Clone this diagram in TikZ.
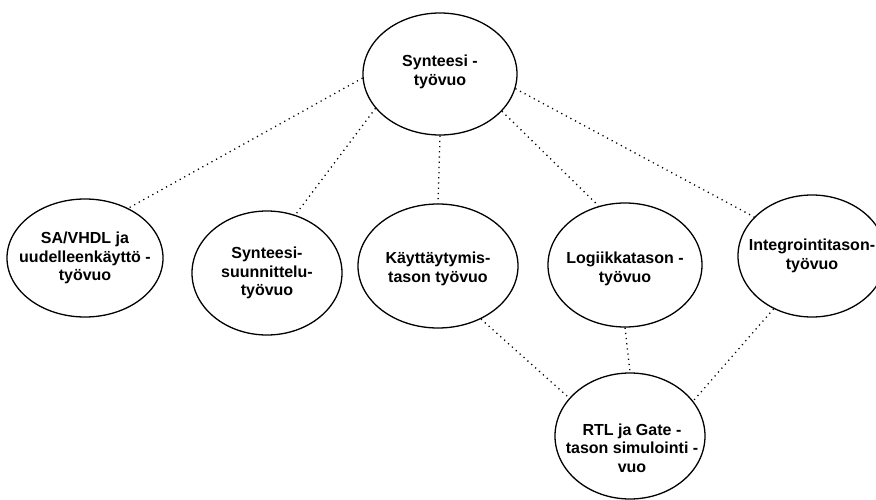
\documentclass[tikz,border=0pt]{standalone}
\usepackage{fontspec}
\setmainfont{Liberation Sans}
\usetikzlibrary{shapes.geometric}
\begin{document}
\begin{tikzpicture}[x=1pt,y=-1pt,
  flow/.style={ellipse,draw=black,line width=1.3pt,inner sep=0pt},
  caption/.style={align=center,inner sep=0pt,
    font=\fontsize{16}{18.6}\selectfont\bfseries},
  link/.style={line width=1.3pt,dash pattern=on 1.2pt off 4pt,line cap=butt}]
\useasboundingbox (0,0) rectangle (876,500);
% workflow ellipses
\node[flow,minimum width=154pt,minimum height=122pt] (top) at (440,74) {};
\node[flow,minimum width=156pt,minimum height=118pt] (sa)  at (85,258) {};
\node[flow,minimum width=150pt,minimum height=124pt] (syn) at (267,273) {};
\node[flow,minimum width=160pt,minimum height=124pt] (kay) at (438,266) {};
\node[flow,minimum width=154pt,minimum height=124pt] (log) at (625,265) {};
\node[flow,minimum width=148pt,minimum height=122pt] (int) at (812,256) {};
\node[flow,minimum width=150pt,minimum height=126pt] (rtl) at (630,436) {};
% captions
\node[caption] (top-t) at (440,72) {Synteesi -\\työvuo};
\node[caption] (sa-t)  at (85,258) {SA/VHDL ja\\uudelleenkäyttö -\\työvuo};
\node[caption] (syn-t) at (267,273) {Synteesi-\\suunnittelu-\\työvuo};
\node[caption] (kay-t) at (438,269) {Käyttäytymis-\\tason työvuo};
\node[caption] (log-t) at (625,269) {Logiikkatason -\\työvuo};
\node[caption] (int-t) at (812,256) {Integrointitason-\\työvuo};
\node[caption] (rtl-t) at (632,448) {RTL ja Gate -\\tason simulointi -\\vuo};
% dotted relations
\draw[link] (top.183) -- (sa.49);
\draw[link] (top.208) -- (syn.64);
\draw[link] (top.south) -- (kay.north);
\draw[link] (top.329) -- (log.114);
\draw[link] (top.349) -- (int.146);
\draw[link] (kay.309) -- (rtl.148);
\draw[link] (log.south) -- (rtl.north);
\draw[link] (int.234) -- (rtl.29);
\end{tikzpicture}
\end{document}
